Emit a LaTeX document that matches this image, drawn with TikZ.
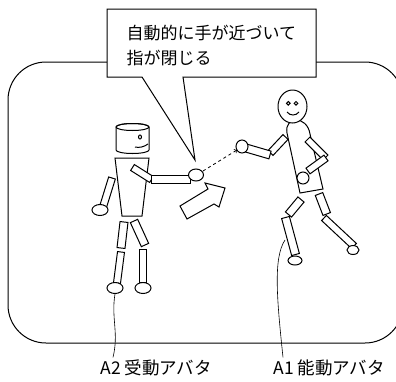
\documentclass[tikz,border=0pt]{standalone}
\usepackage{fontspec}
\usepackage{tikz}
\usetikzlibrary{calc}
\newfontfamily\jpfont{Noto Sans CJK JP}

% one limb: a white bar from #1 to #2, half width #3
\newcommand{\drawlimb}[3]{%
  \draw[part] ($#1!#3!90:#2$) -- ($#2!#3!-90:#1$) -- ($#2!#3!90:#1$) -- ($#1!#3!-90:#2$) -- cycle;}

\begin{document}
\begin{tikzpicture}[x=1pt,y=-1pt,line width=1pt,
  part/.style={fill=white,line width=1pt},
  label/.style={font=\jpfont\fontsize{17.5}{20}\selectfont,inner sep=0pt,anchor=west}]

\clip (0,0) rectangle (396,381);

% room
\draw [rounded corners=38pt] (8,62) rectangle (403,343);

% speech bubble
\draw [fill=white] (107,9) -- (316,9) -- (316,77) -- (183,77) -- (195,160)
    -- (142,77) -- (107,77) -- cycle;
\node (note) [font=\jpfont\fontsize{17}{25}\selectfont,align=left,inner sep=0pt,
    anchor=west] at (126,45.5) {自動的に手が近づいて\\指が閉じる};

% ---- A2: robot ----
% legs
\drawlimb{(124,222)}{(121,248)}{4pt}
\drawlimb{(134,221)}{(145,245)}{4pt}
\drawlimb{(121,252)}{(117,283)}{3.5pt}
\drawlimb{(143,249)}{(143,282)}{3.5pt}
\draw [part] (115,288) ellipse (8 and 5.5);
\draw [part] (143,288) ellipse (8 and 5.5);

% body and head
\draw [part] (115,158) -- (149,158) -- (142,216) -- (122,216) -- cycle;
\draw [part] (116,127) -- (116,150) arc (180:0:16.5 and 3.5) -- (149,127)
    arc (0:-180:16.5 and 3.5) -- cycle;
\draw (132.5,127) ellipse (16.5 and 3.5);
\draw (140,137) ellipse (1.5 and 2);
\draw (135,147) .. controls (139,148) and (144,147) .. (148,144);

% hanging arm
\drawlimb{(112,178)}{(103,207)}{3.5pt}
\draw [part] (100,210) ellipse (8 and 5.5);

% stretched arm
\drawlimb{(132.5,167.5)}{(151.5,179.5)}{3.5pt}
\drawlimb{(151,179)}{(190,179)}{4pt}
\draw [part] (196,175) ellipse (7.5 and 6);
\coordinate (handA2) at (203,171);

% ---- A1: person ----
% legs
\drawlimb{(301,199.5)}{(288.5,214.5)}{4pt}
\drawlimb{(285.5,217.5)}{(295.5,254.5)}{4pt}
\drawlimb{(319,194)}{(326.7,214)}{4pt}
\drawlimb{(324,218)}{(354,246)}{3.5pt}
\draw [part] (295,260.5) ellipse (7 and 4.5);
\draw [part] (353,250) ellipse (6 and 4.5);

% body and head
\draw [part] (300,193) -- (287,133) .. controls (284,116) and (307,115) .. (310,134)
    -- (323,189) -- cycle;
\draw [part] (292.5,106.5) ellipse (14.5 and 16.5);
\draw (288.3,103.3) circle (1.8);
\draw (296,103.3) circle (1.8);
\draw (287,112) .. controls (290,116) and (296,116) .. (299,112);

% reaching arm
\drawlimb{(285.5,137)}{(270.5,153)}{3.5pt}
\drawlimb{(270,155)}{(246,148)}{4pt}
\draw [part] (242,146.5) ellipse (6 and 6.5);
\coordinate (handA1) at (237,150);

% back arm
\drawlimb{(307.5,139.5)}{(325.5,157.5)}{3.5pt}
\drawlimb{(326,158)}{(308,171)}{3.5pt}
\draw [part] (303,178) circle (6);

% hands come together
\draw [dashed,line width=0.8pt,->] (handA2) -- (handA1);

% block arrow
\draw [part] (180,206) -- (187,219) -- (214,204) -- (219,207) -- (225,188)
    -- (205,183) -- (208,189) -- cycle;

% labels
\node (lblA2) [label] at (100,368) {A2 受動アバタ};
\node (lblA1) [label] at (273,368) {A1 能動アバタ};

\coordinate (footA2) at (115,294);
\coordinate (legA1) at (285,240);
\draw [line width=0.6pt] (footA2) .. controls (111,318) and (119,333) .. ($(lblA2.north west)+(13,-2)$);
\draw [line width=0.6pt] (legA1) .. controls (273,258) and (277,300) .. ($(lblA1.north west)+(10,-2)$);
\end{tikzpicture}
\end{document}
